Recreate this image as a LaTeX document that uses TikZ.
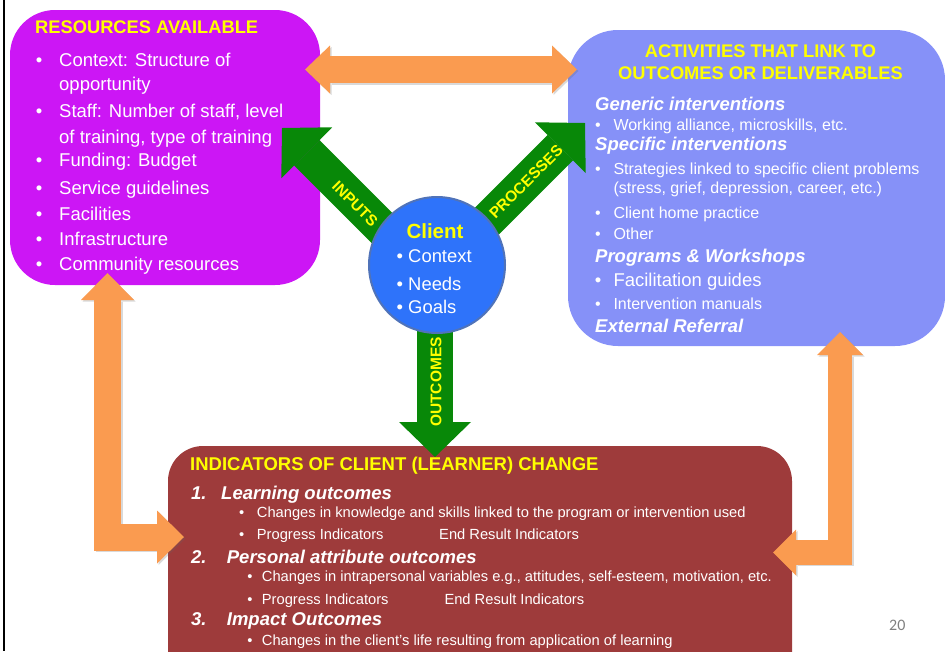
\documentclass[tikz,border=0pt]{standalone}
\usepackage{fontspec}
\setmainfont{Liberation Sans}
\newfontfamily\slidefont{Carlito}
\usetikzlibrary{arrows.meta}
\definecolor{respurple}{RGB}{204,22,245}
\definecolor{actblue}{RGB}{134,145,248}
\definecolor{indbrown}{RGB}{158,59,59}
\definecolor{arrowgreen}{RGB}{8,136,8}
\definecolor{arroworange}{RGB}{250,155,80}
\definecolor{clientblue}{RGB}{46,115,250}
\definecolor{clientrim}{RGB}{80,115,185}
\definecolor{titleyellow}{RGB}{255,255,0}

\begin{document}
\begin{tikzpicture}[x=1pt,y=-1pt]

\tikzset{box/.style={shape=rectangle,inner sep=0pt},
heading/.style={text=titleyellow,inner sep=0pt,font=\bfseries\fontsize{18.3}{22}\selectfont},
subhead/.style={text=white,anchor=base west,inner sep=0pt,font=\bfseries\itshape\fontsize{18.5}{22}\selectfont},
restxt/.style={text=white,anchor=base west,inner sep=0pt,font=\fontsize{18.5}{22}\selectfont},
acttxt/.style={text=white,anchor=base west,inner sep=0pt,font=\fontsize{16}{19}\selectfont},
indtxt/.style={text=white,anchor=base west,inner sep=0pt,font=\fontsize{14.7}{17}\selectfont},
dot/.style={text=white,anchor=base,inner sep=0pt},
greenarrow/.style={draw=arrowgreen,line width=36pt,-{Triangle[length=35pt,width=72pt,line width=0pt]}},
orangearrow/.style n args={3}{draw=arroworange,line width=#1,{Triangle[length=#2,width=#3,line width=0pt]}-{Triangle[length=#2,width=#3,line width=0pt]}},
arrowlabel/.style={text=titleyellow,inner sep=0pt,font=\bfseries\fontsize{15.5}{18}\selectfont}}

\useasboundingbox (0,0) rectangle (945,651);
\draw[line width=2pt] (4.3,0) -- (4.3,651);

% Boxes
\node[box,fill=respurple,minimum width=310pt,minimum height=275pt,rounded corners=45pt] (res) at (165,147.5) {};
\node[box,fill=actblue,minimum width=377pt,minimum height=316pt,rounded corners=50pt] (act) at (756.5,188) {};
\node[box,fill=indbrown,minimum width=624pt,minimum height=254pt,rounded corners=35pt] (ind) at (480,573) {};

% Resources
\node[heading,anchor=base west] (resTitle) at (35,33.3) {RESOURCES AVAILABLE};
\foreach \y [count=\i] in {66.7,117.3,166.7,194,220.7,245,270.7} \node[dot,font=\fontsize{18.5}{22}\selectfont] (resb\i) at (39,\y) {•};
\node[restxt] (res1) at (59,66.7) {Context: Structure of};
\node[restxt] (res2) at (59,90.7) {opportunity};
\node[restxt] (res3) at (59,117.3) {Staff: Number of staff, level};
\node[restxt] (res4) at (59,143.3) {of training, type of training};
\node[restxt] (res5) at (59,166.7) {Funding: Budget};
\node[restxt] (res6) at (59,194) {Service guidelines};
\node[restxt] (res7) at (59,220.7) {Facilities};
\node[restxt] (res8) at (59,245) {Infrastructure};
\node[restxt] (res9) at (59,270.7) {Community resources};

% Activities
\node[heading,anchor=base] (actTitleA) at (760.5,57.7) {ACTIVITIES THAT LINK TO};
\node[heading,anchor=base] (actTitleB) at (760.5,79.3) {OUTCOMES OR DELIVERABLES};
\node[subhead] (generic) at (595,110.7) {Generic interventions};
\node[subhead] (specific) at (595,150) {Specific interventions};
\node[subhead] (programs) at (595,262.7) {Programs \& Workshops};
\node[subhead] (referral) at (595,332.7) {External Referral};
\foreach \y [count=\i] in {130,174,218.3,239,309.3} \node[dot,font=\fontsize{16}{19}\selectfont] (actb\i) at (598,\y) {•};
\node[dot,font=\fontsize{18.5}{22}\selectfont] (actb6) at (598,286.7) {•};
\node[acttxt] (act1) at (613.3,130) {Working alliance, microskills, etc.};
\node[acttxt] (act2) at (613.3,174) {Strategies linked to specific client problems};
\node[acttxt] (act3) at (613.3,193.3) {(stress, grief, depression, career, etc.)};
\node[acttxt] (act4) at (613.3,218.3) {Client home practice};
\node[acttxt] (act5) at (613.3,239) {Other};
\node[restxt] (act6) at (613.3,286.7) {Facilitation guides};
\node[acttxt] (act7) at (613.3,309.3) {Intervention manuals};

% Indicators
\node[heading,anchor=base west,font=\bfseries\fontsize{18.5}{22}\selectfont] (indTitle) at (190,470) {INDICATORS OF CLIENT (LEARNER) CHANGE};
\node[subhead] (num1) at (191,499) {1.};
\node[subhead] (learning) at (221,499) {Learning outcomes};
\node[subhead] (num2) at (191,563.3) {2.};
\node[subhead] (personal) at (226.7,563.3) {Personal attribute outcomes};
\node[subhead] (num3) at (191,625) {3.};
\node[subhead] (impact) at (226.7,625) {Impact Outcomes};
\foreach \x/\y [count=\i] in {241.7/517.7,241.7/539.3,250/581.7,250/604,250/645} \node[dot,font=\fontsize{14.7}{17}\selectfont] (indb\i) at (\x,\y) {•};
\node[indtxt] (ind1) at (256.7,517.7) {Changes in knowledge and skills linked to the program or intervention used};
\node[indtxt] (ind2) at (256.7,539.3) {Progress Indicators};
\node[indtxt] (ind3) at (439,539.3) {End Result Indicators};
\node[indtxt] (ind4) at (261.7,581.7) {Changes in intrapersonal variables e.g., attitudes, self-esteem, motivation, etc.};
\node[indtxt] (ind5) at (261.7,604) {Progress Indicators};
\node[indtxt] (ind6) at (444.3,604) {End Result Indicators};
\node[indtxt] (ind7) at (261.7,645) {Changes in the client’s life resulting from application of learning};

% Orange links (with a faint shadow)
\coordinate (resRight) at (305,69.5);
\coordinate (actLeft) at (577,69.5);
\coordinate (resBottom) at (107.5,273);
\coordinate (indLeft) at (184,537);
\coordinate (actBottom) at (840,332);
\coordinate (indRight) at (773,552.5);
\begin{scope}[transform canvas={shift={(1.5pt,-1.5pt)}},opacity=.25]
\draw[orangearrow={27pt}{25pt}{48pt},draw=black!60] (resRight) -- (actLeft);
\draw[orangearrow={27pt}{27pt}{53pt},draw=black!60] (resBottom) |- (indLeft);
\draw[orangearrow={24.5pt}{23pt}{46pt},draw=black!60] (actBottom) |- (indRight);
\end{scope}
\draw[orangearrow={27pt}{25pt}{48pt}] (resRight) -- (actLeft);
\draw[orangearrow={27pt}{27pt}{53pt}] (resBottom) |- (indLeft);
\draw[orangearrow={24.5pt}{23pt}{46pt}] (actBottom) |- (indRight);

% Green arrows out of the client
\coordinate (inBase) at (400,246);
\coordinate (inTip) at (282,128);
\coordinate (procBase) at (470,238);
\coordinate (procTip) at (585,123);
\coordinate (outBase) at (435,300);
\coordinate (outTip) at (435,457);
\draw[greenarrow] (inBase) -- (inTip);
\draw[greenarrow] (procBase) -- (procTip);
\draw[greenarrow] (outBase) -- (outTip);
\node[arrowlabel,rotate=-45] (inLabel) at (355,204) {INPUTS};
\node[arrowlabel,rotate=45] (procLabel) at (526,182) {PROCESSES};
\node[arrowlabel,rotate=90] (outLabel) at (436,382) {OUTCOMES};

% Client
\node[shape=circle,fill=clientblue,draw=clientrim,line width=2pt,minimum size=136pt,inner sep=0pt] (client) at (437,265) {};
\node[heading,anchor=base,font=\bfseries\fontsize{20.5}{24}\selectfont] (clientTitle) at (435,238.3) {Client};
\node[restxt,font=\fontsize{18.4}{22}\selectfont] (context) at (396.5,262.7) {• Context};
\node[restxt,font=\fontsize{18.4}{22}\selectfont] (needs) at (396.5,290) {• Needs};
\node[restxt,font=\fontsize{18.4}{22}\selectfont] (goals) at (396.5,313.3) {• Goals};

\node[anchor=base west,inner sep=0pt,text=black!50,font=\slidefont\fontsize{16}{19}\selectfont] (pageNo) at (889,630) {20};

\end{tikzpicture}
\end{document}
